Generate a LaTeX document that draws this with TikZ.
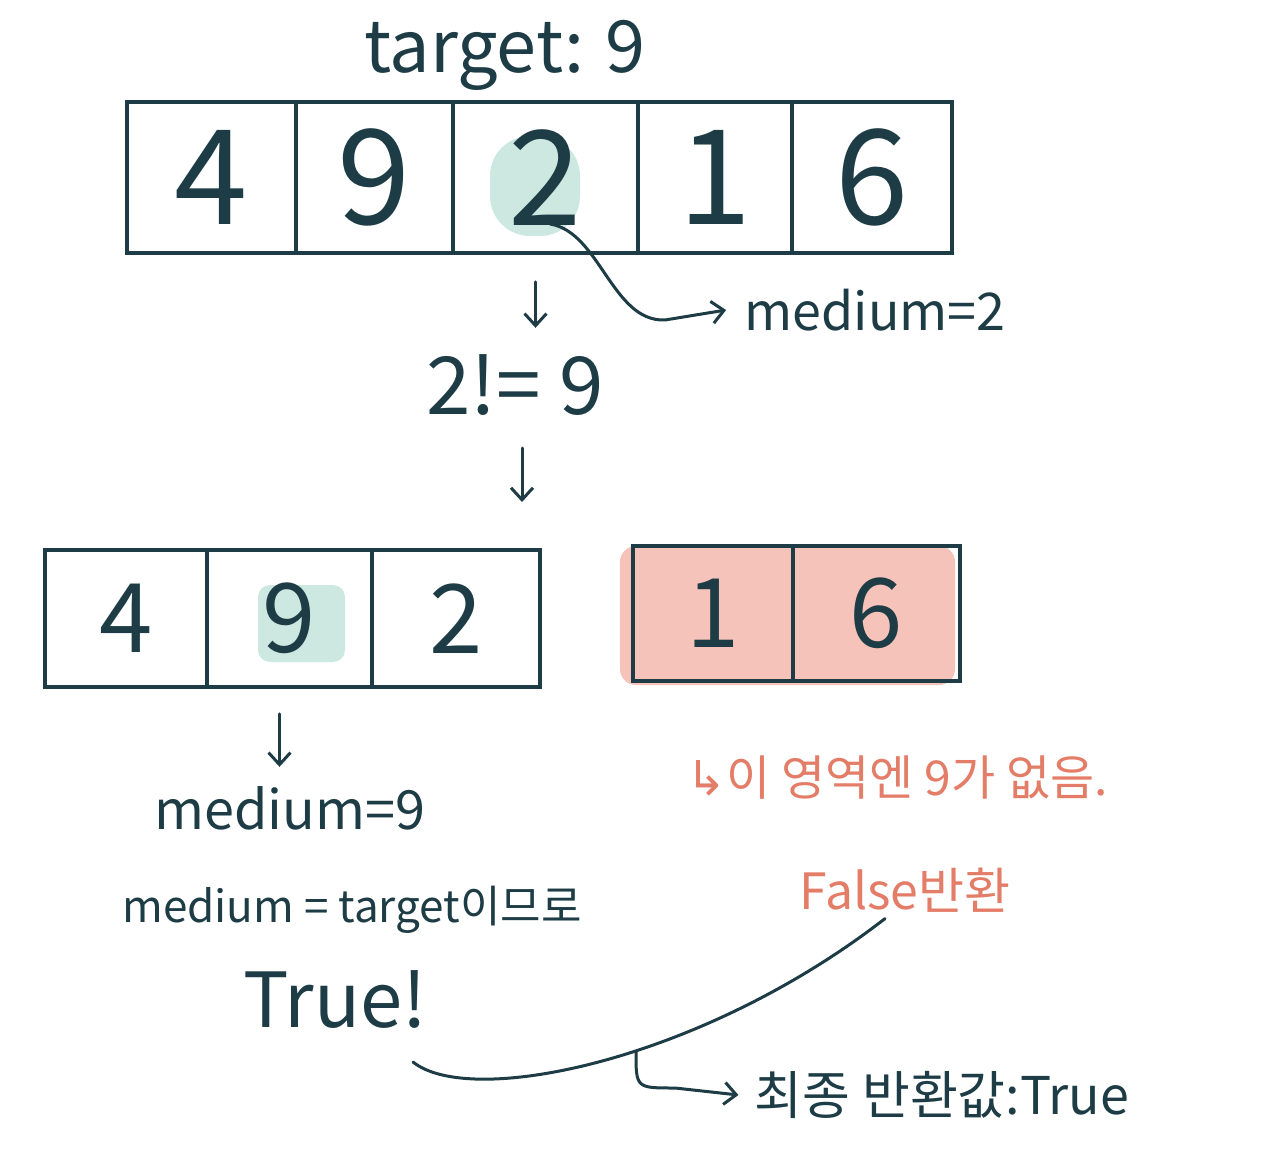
\documentclass[tikz,border=0pt]{standalone}
\usepackage{fontspec}
\newfontfamily\kr{Noto Sans CJK KR}
\newfontfamily\dv{DejaVu Sans}
\usetikzlibrary{arrows.meta}
\definecolor{ink}{HTML}{1D3C45}
\definecolor{salmon}{HTML}{E47D68}
\definecolor{pinkfill}{HTML}{F5C3B9}
\definecolor{tealfill}{HTML}{CDE7E1}
\tikzset{
  cell/.style={draw=ink, line width=1.8pt, inner sep=0pt, text=ink, font=\kr\fontsize{66}{68}\selectfont},
  scell/.style={cell, font=\kr\fontsize{48}{50}\selectfont},
  lbl/.style={text=ink, inner sep=1pt},
  rlbl/.style={text=salmon, inner sep=1pt},
  arr/.style={draw=ink, line width=1.5pt, line cap=round, -{Straight Barb[length=6pt,width=11pt]}},
  conn/.style={draw=ink, line width=1.5pt, line cap=round},
}
\begin{document}
\begin{tikzpicture}[x=0.5pt, y=-0.5pt]
\useasboundingbox[fill=white] (0,0) rectangle (1280,1150);

% highlights
\fill[tealfill, rounded corners=20pt] (490,136) rectangle (580,236);
\fill[tealfill, rounded corners=6pt] (258,585) rectangle (345,662);
\fill[pinkfill, rounded corners=8pt] (620,546) rectangle (955,685);

% title
\node[lbl, font=\kr\fontsize{36}{38}\selectfont] (tgt) at (505,55) {target: 9};

% top array
\node[cell, minimum width=84.5pt, minimum height=75.5pt] (c1) at (211.5,177.5) {4};
\node[cell, minimum width=78.5pt, minimum height=75.5pt] (c2) at (374.5,177.5) {9};
\node[cell, minimum width=92.5pt, minimum height=75.5pt] (c3) at (545.5,177.5) {2};
\node[cell, minimum width=77pt,   minimum height=75.5pt] (c4) at (715,177.5) {1};
\node[cell, minimum width=80pt,   minimum height=75.5pt] (c5) at (872,177.5) {6};

% medium=2
\node[lbl, font=\kr\fontsize{26}{28}\selectfont] (m2) at (875,310) {medium=2};
\coordinate (s2) at (550,224);
\draw[conn, -{Straight Barb[length=6pt,width=11pt]}] (s2) .. controls (600,232) and (612,322) .. (665,320) -- ([xshift=-8pt]m2.west);

% compare
\draw[arr] (c3.south) ++(-10,27) -- ++(0,46);
\node[lbl, font=\kr\fontsize{40}{42}\selectfont] (cmp) at (515,385) {2!= 9};
\draw[arr] (cmp.center) ++(7,63) -- ++(0,54);

% bottom left array
\node[scell, minimum width=81pt,   minimum height=68.5pt] (b1) at (126,618.5) {4};
\node[scell, minimum width=82.5pt, minimum height=68.5pt] (b2) at (289.5,618.5) {9};
\node[scell, minimum width=84pt,   minimum height=68.5pt] (b3) at (456,618.5) {2};

% bottom right array
\node[scell, minimum width=80pt,   minimum height=67.5pt] (r1) at (713,613.5) {1};
\node[scell, minimum width=83.5pt, minimum height=67.5pt] (r2) at (876.5,613.5) {6};

% left branch
\draw[arr] (b2.south) ++(-10,25) -- ++(0,53);
\node[lbl, font=\kr\fontsize{27}{29}\selectfont] (m9) at (290,808) {medium=9};
\node[lbl, font=\kr\fontsize{22}{24}\selectfont] (eq) at (352,910) {medium = target이므로};
\node[lbl, font=\kr\fontsize{38}{40}\selectfont] (tr) at (335,1000) {True!};

% right branch
\node[rlbl, font=\kr\fontsize{24}{26}\selectfont] (no9) at (897,778) {{\dv ↳}이 영역엔 9가 없음.};
\node[rlbl, font=\kr\fontsize{25}{27}\selectfont] (ff) at (905,890) {False반환};

% merge
\coordinate (tstart) at (413,1062);
\draw[conn] (tstart) .. controls (470,1108) and (700,1062) .. ([xshift=-10pt,yshift=-2pt]ff.south);
\coordinate (hk) at (636,1052);
\node[lbl, font=\kr\fontsize{26}{28}\selectfont] (fin) at (942,1095) {최종 반환값:True};
\draw[conn, -{Straight Barb[length=6pt,width=11pt]}] (hk) .. controls (636,1088) .. (675,1088) -- ([xshift=-7pt]fin.west);
\end{tikzpicture}
\end{document}
